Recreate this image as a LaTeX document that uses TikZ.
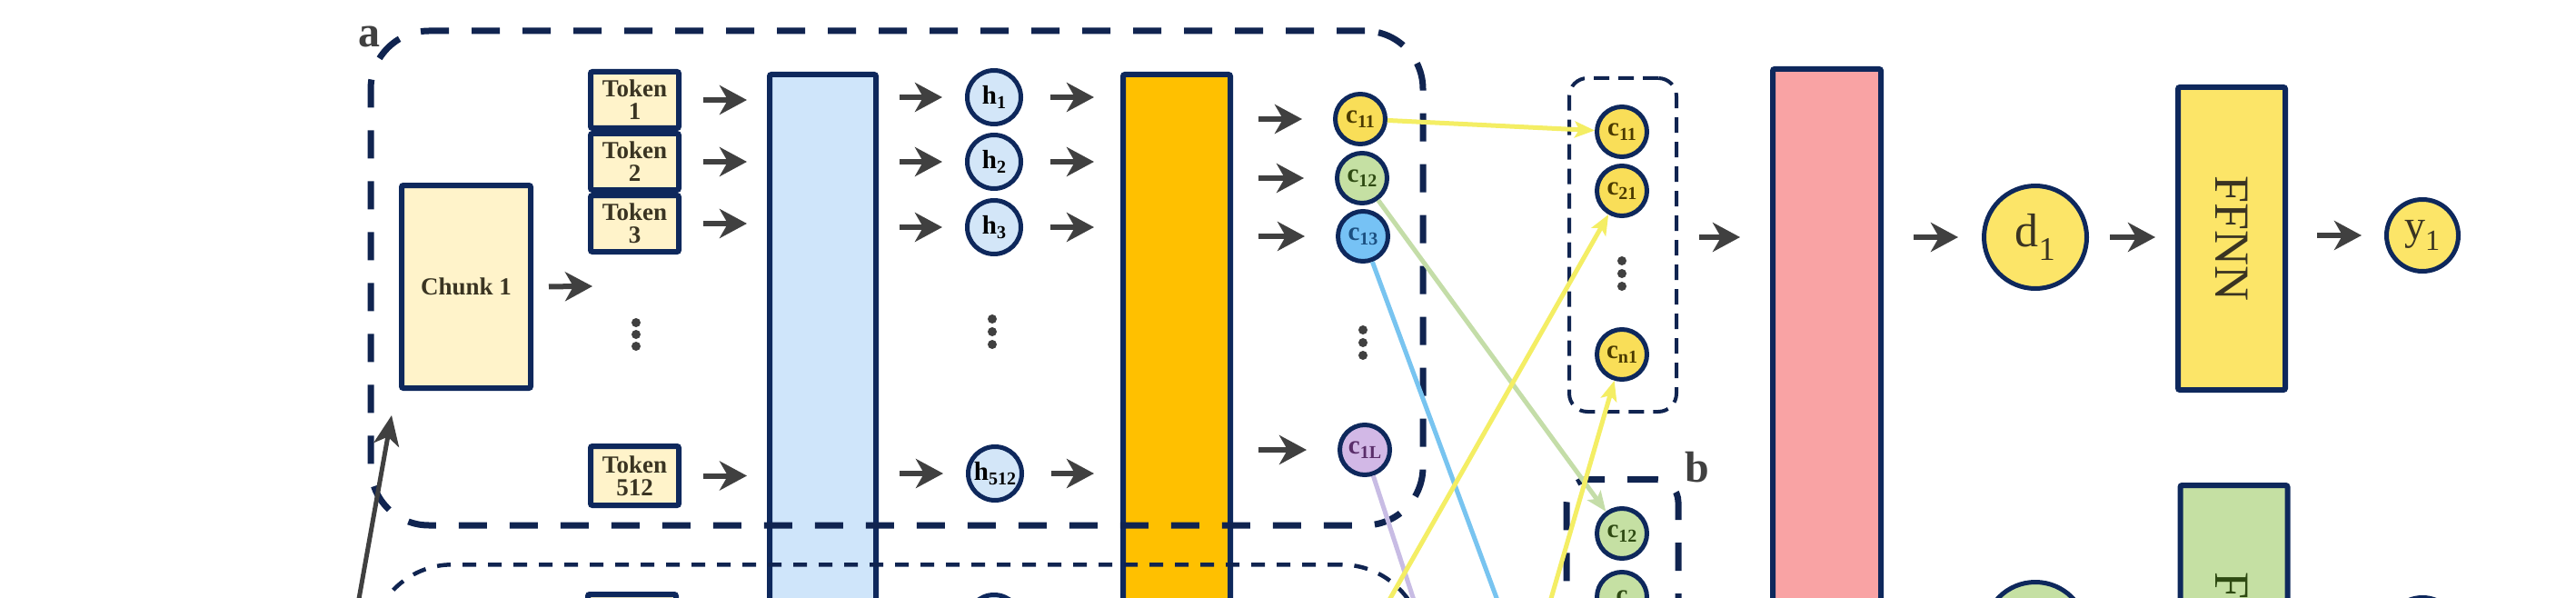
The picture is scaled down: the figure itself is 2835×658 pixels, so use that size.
\documentclass[tikz,border=0pt]{standalone}
\usepackage{fontspec}
\setmainfont{Liberation Serif}
\usetikzlibrary{arrows.meta}
\definecolor{navy}{RGB}{14,40,92}
\definecolor{dnavy}{RGB}{16,36,80}
\definecolor{cream}{RGB}{255,243,202}
\definecolor{lblue}{RGB}{207,229,250}
\definecolor{hblue}{RGB}{211,230,248}
\definecolor{orng}{RGB}{255,192,0}
\definecolor{cyel}{RGB}{249,222,88}
\definecolor{cgrn}{RGB}{197,224,163}
\definecolor{cblu}{RGB}{118,194,245}
\definecolor{cpur}{RGB}{210,184,230}
\definecolor{pinkf}{RGB}{249,163,164}
\definecolor{fyel}{RGB}{252,229,104}
\definecolor{agray}{RGB}{64,64,64}
\definecolor{txt}{RGB}{58,52,34}
\definecolor{lyel}{RGB}{244,238,100}
\definecolor{lgrn}{RGB}{196,221,168}
\definecolor{lblu}{RGB}{120,196,240}
\definecolor{lpur}{RGB}{200,188,228}
\definecolor{tyel}{RGB}{74,58,0}
\definecolor{tgrn}{RGB}{46,74,18}
\definecolor{tblu}{RGB}{27,79,128}
\definecolor{tpur}{RGB}{90,46,106}
\newcommand{\mysub}[1]{\raisebox{-0.35ex}{\fontsize{20}{20}\selectfont #1}}
\tikzset{
  boxnode/.style={draw=navy, line width=6pt, rounded corners=2pt, inner sep=0pt, text=txt,
    font=\fontsize{27}{29}\selectfont\bfseries, align=center},
  circnode/.style={circle, draw=navy, line width=5pt, inner sep=0pt,
    font=\fontsize{29}{30}\selectfont\bfseries},
  grpbox/.style={draw=dnavy, line width=7pt, dash pattern=on 31pt off 25pt, inner sep=0pt},
  thingrp/.style={draw=dnavy, line width=4pt, dash pattern=on 17pt off 10pt, inner sep=0pt},
  garrow/.style={draw=agray, line width=6pt, -{Stealth[length=30pt,width=32pt,inset=9pt]}},
  carrow/.style={line width=5pt, -{Stealth[length=22pt,width=18pt,inset=5pt]}},
  cline/.style={line width=5pt},
  dotnode/.style={circle, fill=agray, inner sep=0pt, minimum size=10pt},
  lbl/.style={font=\fontsize{48}{48}\selectfont\bfseries, text=agray, inner sep=0pt}
}
\begin{document}
\begin{tikzpicture}[x=1pt,y=-1pt]
\useasboundingbox (0,0) rectangle (2835,658);
\clip (0,0) rectangle (2835,658);
\fill[white] (0,0) rectangle (2835,658);

% bars
\node[boxnode, fill=lblue, minimum width=117pt, minimum height=900pt, anchor=north] (enc) at (905.5,79) {};
\node[boxnode, fill=orng, minimum width=118pt, minimum height=900pt, anchor=north] (att) at (1295,79) {};
\node[boxnode, fill=pinkf, minimum width=119pt, minimum height=900pt, anchor=north] (dec) at (2010.5,73) {};

% chunk and tokens
\node[boxnode, fill=cream, minimum width=142pt, minimum height=223pt] (chunk) at (513,315.5) {Chunk 1};
\node[boxnode, fill=cream, minimum width=97pt, minimum height=62pt] (tok1) at (698.5,110) {Token\\[-4pt]1};
\node[boxnode, fill=cream, minimum width=97pt, minimum height=62pt] (tok2) at (698.5,178) {Token\\[-4pt]2};
\node[boxnode, fill=cream, minimum width=97pt, minimum height=62pt] (tok3) at (698.5,246) {Token\\[-4pt]3};
\node[boxnode, fill=cream, minimum width=97pt, minimum height=65pt] (tok512) at (698.5,523.5) {Token\\[-4pt]512};
\coordinate (tokcol) at (652,315);

% h circles
\node[circnode, fill=hblue, minimum size=59pt] (h1) at (1094,107) {h\mysub{1}};
\node[circnode, fill=hblue, minimum size=59pt] (h2) at (1094,178) {h\mysub{2}};
\node[circnode, fill=hblue, minimum size=59pt] (h3) at (1094,250) {h\mysub{3}};
\node[circnode, fill=hblue, minimum size=59pt] (h512) at (1095,521) {h\mysub{512}};

% c circles (chunk 1)
\node[circnode, fill=cyel, text=tyel, minimum size=55pt] (c11) at (1497,131) {c\mysub{11}};
\node[circnode, fill=cgrn, text=tgrn, minimum size=55pt] (c12) at (1499,196) {c\mysub{12}};
\node[circnode, fill=cblu, text=tblu, minimum size=55pt] (c13) at (1500,260) {c\mysub{13}};
\node[circnode, fill=cpur, text=tpur, minimum size=55pt] (c1L) at (1502,495) {c\mysub{1L}};

% dots
\node[dotnode] (td1) at (700,355) {};
\node[dotnode] (td2) at (700,368) {};
\node[dotnode] (td3) at (700,381) {};
\node[dotnode] (hd1) at (1092,351) {};
\node[dotnode] (hd2) at (1092,365) {};
\node[dotnode] (hd3) at (1092,379) {};
\node[dotnode] (cd1) at (1500,363) {};
\node[dotnode] (cd2) at (1500,377) {};
\node[dotnode] (cd3) at (1500,391) {};
\node[dotnode] (rd1) at (1785,287) {};
\node[dotnode] (rd2) at (1785,301) {};
\node[dotnode] (rd3) at (1785,315) {};

% right collected c's
\node[thingrp, rounded corners=20pt, minimum width=118pt, minimum height=367pt] (rg) at (1786,269.5) {};
\node[circnode, fill=cyel, text=tyel, minimum size=55pt] (c11r) at (1785,145) {c\mysub{11}};
\node[circnode, fill=cyel, text=tyel, minimum size=55pt] (c21r) at (1785,210) {c\mysub{21}};
\node[circnode, fill=cyel, text=tyel, minimum size=55pt] (cn1r) at (1785,390) {c\mysub{n1}};

% box b
\node[circnode, fill=cgrn, text=tgrn, minimum size=55pt] (c12b) at (1785,587) {c\mysub{12}};
\node[circnode, fill=cgrn, text=tgrn, minimum size=55pt] (c22b) at (1785,657) {c};
\node[grpbox, rounded corners=25pt, minimum width=123pt, minimum height=600pt, anchor=north] (bgrp) at (1785.5,524) {};
\node[lbl] (lb) at (1868,514) {b};

% decoder side
\node[circnode, fill=fyel, minimum size=113pt, font=\fontsize{52}{52}\selectfont, text=txt] (d1) at (2240,261) {d\textsubscript{1}};
\node[boxnode, fill=fyel, minimum width=118pt, minimum height=333pt, font=\fontsize{54}{54}\selectfont] (ffnn) at (2456,262.5) {\rotatebox{-90}{FFNN}};
\node[circnode, fill=fyel, minimum size=79pt, font=\fontsize{46}{46}\selectfont, text=txt] (y1) at (2666,259) {y\textsubscript{1}};
\node[boxnode, fill=cgrn, minimum width=118pt, minimum height=400pt, anchor=north] (ffnn2) at (2458.5,531) {};
\node[font=\fontsize{54}{54}\selectfont, text=tgrn, inner sep=0pt] (f2) at (2456,645) {\rotatebox{-90}{F}};
\node[circnode, fill=cgrn, minimum size=113pt] (d2) at (2240,697) {};
\node[circnode, fill=cgrn, minimum size=79pt] (y2) at (2666,697) {};

% chunk 2 fragments
\node[boxnode, fill=cream, minimum width=97pt, minimum height=65pt, anchor=north] (tok21) at (695.5,651) {};
\node[circnode, fill=hblue, minimum size=59pt] (h21) at (1094,684) {};

% group boxes
\node[grpbox, rounded corners=64pt, minimum width=1158pt, minimum height=544pt] (boxa) at (987,306) {};
\node[draw=dnavy, line width=4.5pt, dash pattern=on 15pt off 13pt, rounded corners=90pt, inner sep=0pt,
      minimum width=1158pt, minimum height=600pt, anchor=north] (boxa2) at (987,619) {};
\node[lbl] (la) at (406,40) {a};

% grey arrows
\draw[garrow, shorten <=17pt] (chunk.east) -- (tokcol);
\foreach \t in {tok1,tok2,tok3,tok512}
  \draw[garrow, shorten <=24pt, shorten >=22pt] (\t.east) -- (\t.east -| enc.west);
\foreach \h in {h1,h2,h3,h512}{
  \draw[garrow, shorten <=23pt, shorten >=25pt] (\h -| enc.east) -- (\h.west);
  \draw[garrow, shorten <=30pt, shorten >=29pt] (\h.east) -- (\h.east -| att.west);
}
\foreach \c in {c11,c12,c13,c1L}
  \draw[garrow, shorten <=28pt, shorten >=34pt] (\c -| att.east) -- (\c.west);
\draw[garrow, shorten <=23pt, shorten >=33pt] (rg.east |- d1) -- (dec.west |- d1);
\draw[garrow, shorten <=33pt, shorten >=26pt] (dec.east |- d1) -- (d1.west);
\draw[garrow, shorten <=23pt, shorten >=22pt] (d1.east) -- (d1.east -| ffnn.west);
\draw[garrow, shorten <=32pt, shorten >=25pt] (ffnn.east |- y1) -- (y1.west);
\coordinate (gstart) at (377,760);
\coordinate (gtip) at (431,457);
\draw[draw=agray, line width=5pt, -{Stealth[length=33pt,width=28pt,inset=9pt]}] (gstart) -- (gtip);

% coloured connectors
\coordinate (blend) at (1691,777);
\coordinate (pend) at (1582,740);
\coordinate (ystart1) at (1479,748);
\coordinate (ystart2) at (1681,748);
\coordinate (gstart2) at (1610,705);
\draw[carrow, lyel] (c11) -- (c11r);
\draw[carrow, lgrn] (c12) -- (c12b);
\draw[cline, lblu] (c13) -- (blend);
\draw[cline, lpur] (c1L) -- (pend);
\draw[carrow, lyel] (ystart1) -- (c21r);
\draw[carrow, lyel] (ystart2) -- (cn1r);
\draw[carrow, lgrn] (gstart2) -- (c22b);
\end{tikzpicture}
\end{document}
